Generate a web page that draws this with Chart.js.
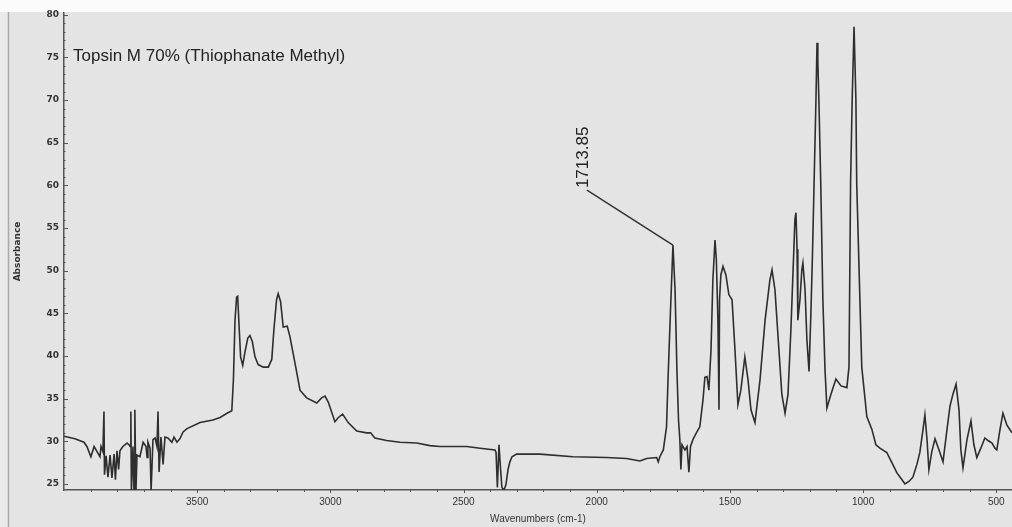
<!DOCTYPE html>
<html>
<head>
<meta charset="utf-8">
<script src="https://cdn.jsdelivr.net/npm/chart.js@4.4.1/dist/chart.umd.min.js"></script>
<style>
  html, body { margin: 0; padding: 0; background: #e4e4e4; }
  canvas { display: block; }
</style>
</head>
<body>
<canvas id="spectrum" width="1012" height="527"></canvas>
<script>
// IR spectrum, values (wavenumber cm-1 / absorbance)
const wavenumbers = [
  4000, 3959, 3925, 3914, 3899, 3887, 3876, 3865, 3861, 3854, 3850, 3848, 3842, 3835, 3827, 3820,
  3812, 3807, 3801, 3795, 3790, 3779, 3763, 3756, 3752, 3749, 3747, 3741, 3737, 3734, 3730, 3726,
  3715, 3703, 3692, 3688, 3685, 3677, 3673, 3666, 3658, 3651, 3647, 3643, 3636, 3628, 3621, 3610,
  3595, 3587, 3576, 3565, 3553, 3538, 3489, 3441, 3414, 3388, 3370, 3364, 3358, 3352, 3348, 3343,
  3337, 3329, 3321, 3310, 3302, 3293, 3283, 3271, 3252, 3233, 3220, 3212, 3202, 3196, 3187, 3177,
  3162, 3152, 3133, 3114, 3089, 3051, 3033, 3020, 3008, 2983, 2970, 2954, 2933, 2901, 2864, 2849,
  2833, 2789, 2739, 2676, 2626, 2589, 2488, 2438, 2382, 2378, 2373, 2367, 2361, 2356, 2348, 2341,
  2333, 2326, 2318, 2301, 2213, 2089, 1963, 1888, 1838, 1813, 1775, 1769, 1763, 1750, 1738, 1732,
  1725, 1713.85, 1706, 1699, 1693, 1688, 1684, 1680, 1669, 1661, 1654, 1648, 1639, 1624, 1613, 1601,
  1594, 1586, 1579, 1571, 1564, 1556, 1551, 1545, 1541, 1539, 1534, 1526, 1515, 1504, 1492, 1481,
  1470, 1459, 1444, 1432, 1421, 1406, 1387, 1368, 1350, 1342, 1331, 1316, 1305, 1293, 1282, 1271,
  1260, 1256, 1252, 1248, 1245, 1237, 1230, 1226, 1218, 1211, 1203, 1196, 1190, 1184, 1177, 1173,
  1170, 1166, 1159, 1151, 1143, 1136, 1121, 1102, 1083, 1061, 1053, 1047, 1041, 1034, 1027, 1024,
  1012, 1005, 986, 967, 952, 937, 911, 892, 873, 854, 843, 828, 813, 798, 787, 775,
  768, 760, 753, 742, 730, 715, 700, 685, 674, 663, 651, 640, 633, 625, 610, 595,
  584, 573, 558, 543, 531, 516, 505, 498, 486, 475, 460, 441
];
const absorbance = [
  30.6, 30.3, 29.9, 29.4, 28.2, 29.4, 28.8, 28.2, 29.4, 28.8, 33.5, 26.1, 28.3, 25.8, 28.4, 25.7,
  28.5, 25.5, 28.9, 26.7, 28.9, 29.4, 29.8, 29.6, 29.4, 33.5, 24.0, 29.4, 24.0, 33.7, 24.0, 28.4,
  28.2, 29.9, 29.4, 28.1, 29.9, 29.2, 24.2, 30.2, 30.4, 29.4, 33.5, 26.4, 30.5, 27.3, 30.5, 30.4,
  29.9, 30.5, 29.9, 30.3, 31.1, 31.5, 32.2, 32.5, 32.8, 33.3, 33.6, 37.2, 44.2, 46.9, 47.0, 43.7,
  39.9, 38.9, 40.4, 42.1, 42.4, 41.7, 39.9, 39.0, 38.7, 38.7, 39.6, 43.1, 46.6, 47.3, 46.4, 43.4,
  43.5, 42.3, 39.2, 36.0, 35.1, 34.5, 35.1, 35.3, 34.6, 32.3, 32.8, 33.2, 32.2, 31.2, 31.0, 31.0,
  30.4, 30.1, 29.9, 29.8, 29.5, 29.4, 29.4, 29.2, 29.0, 28.7, 24.6, 29.6, 26.7, 24.6, 24.3, 24.9,
  26.7, 27.6, 28.2, 28.5, 28.5, 28.2, 28.1, 28.0, 27.7, 28.0, 28.1, 27.6, 28.2, 29.0, 31.7, 37.6,
  43.7, 53.0, 47.8, 38.4, 32.5, 30.2, 26.7, 29.6, 29.0, 29.4, 26.4, 29.4, 30.2, 31.1, 31.7, 34.9,
  37.5, 37.6, 36.0, 40.7, 48.9, 53.6, 51.3, 44.2, 33.7, 46.6, 49.5, 50.5, 49.5, 47.2, 46.6, 40.7,
  34.3, 36.0, 39.9, 37.2, 33.7, 32.2, 37.2, 44.2, 48.9, 50.1, 47.8, 40.7, 35.5, 33.3, 35.5, 43.1,
  52.5, 56.0, 56.8, 52.5, 44.2, 46.6, 50.1, 50.9, 47.8, 41.9, 38.2, 45.0, 52.0, 60.3, 70.0, 76.7,
  74.5, 70.0, 60.3, 46.6, 38.4, 33.9, 35.5, 37.3, 36.5, 36.3, 38.7, 60.3, 70.0, 78.6, 70.0, 60.3,
  46.6, 38.7, 32.9, 31.4, 29.6, 29.2, 28.7, 27.5, 26.3, 25.5, 25.0, 25.3, 25.8, 27.3, 28.7, 31.4,
  33.1, 30.2, 26.7, 28.8, 30.3, 29.0, 27.6, 31.4, 34.1, 35.5, 36.7, 33.7, 29.0, 26.9, 30.2, 32.4,
  29.6, 28.1, 29.2, 30.4, 30.1, 29.8, 29.2, 29.0, 31.4, 33.3, 31.9, 31.0
];

const xTickLabels = [3500, 3000, 2500, 2000, 1500, 1000, 500];
const yTickLabels = [25, 30, 35, 40, 45, 50, 55, 60, 65, 70, 75, 80];
const chartTitle = "Topsin M 70% (Thiophanate Methyl)";
const peakLabel = "1713.85";
const peakWavenumber = 1713.85;

const points = wavenumbers.map((w, i) => ({ x: w, y: absorbance[i] }));
const peakIndex = wavenumbers.indexOf(peakWavenumber);
const sans = "'Liberation Sans', Arial, sans-serif";

// background, tick marks, x labels, title and peak label
const frame = {
  id: "frame",
  beforeDraw(chart) {
    const c = chart.ctx;
    c.save();
    c.fillStyle = "#e4e4e4";
    c.fillRect(0, 0, chart.width, chart.height);
    c.fillStyle = "#fbfbfb";
    c.fillRect(0, 0, chart.width, 12);
    c.fillStyle = "#eaeaea";
    c.fillRect(0, 12, 8, chart.height - 12);
    c.strokeStyle = "#a9a9a9";
    c.lineWidth = 1.5;
    c.beginPath();
    c.moveTo(8.5, 12);
    c.lineTo(8.5, chart.height);
    c.stroke();
    c.restore();
  },
  afterDraw(chart) {
    const c = chart.ctx;
    const xs = chart.scales.x, ys = chart.scales.y;
    const area = chart.chartArea;
    c.save();
    c.strokeStyle = "#555";
    c.lineWidth = 1;
    // y ticks every 1, longer every 5
    for (let v = Math.ceil(ys.min); v <= ys.max; v++) {
      const py = Math.round(ys.getPixelForValue(v)) + 0.5;
      const len = v % 5 === 0 ? 4 : 1.5;
      c.beginPath();
      c.moveTo(area.left - 1, py);
      c.lineTo(area.left + len, py);
      c.stroke();
    }
    // x ticks every 100, longer every 500
    for (let v = 500; v < xs.max; v += 100) {
      const px = Math.round(xs.getPixelForValue(v)) + 0.5;
      const len = v % 500 === 0 ? 3 : 2;
      c.beginPath();
      c.moveTo(px, area.bottom - 1);
      c.lineTo(px, area.bottom + len);
      c.stroke();
    }
    // x labels
    c.fillStyle = "#333";
    c.font = "10px " + sans;
    c.textAlign = "center";
    c.textBaseline = "top";
    xTickLabels.forEach(v => c.fillText(String(v), xs.getPixelForValue(v), area.bottom + 7));

    // title inside plot
    c.fillStyle = "#222";
    c.font = "17px " + sans;
    c.textAlign = "left";
    c.textBaseline = "middle";
    c.fillText(chartTitle, area.left + 9, 56);

    // peak label with leader line
    const px = xs.getPixelForValue(peakWavenumber);
    const py = ys.getPixelForValue(absorbance[peakIndex]);
    c.strokeStyle = "#333";
    c.lineWidth = 1.5;
    c.beginPath();
    c.moveTo(px, py);
    c.lineTo(px - 86, py - 55);
    c.stroke();
    c.translate(px - 90, py - 57);
    c.rotate(-Math.PI / 2);
    c.fillStyle = "#222";
    c.font = "17px " + sans;
    c.textAlign = "left";
    c.textBaseline = "middle";
    c.fillText(peakLabel, 0, 0);
    c.restore();
  }
};

const ctx = document.getElementById("spectrum").getContext("2d");
const chart = new Chart(ctx, {
  type: "scatter",
  data: {
    datasets: [{
      data: points,
      showLine: true,
      borderColor: "#2e2e2e",
      borderWidth: 1.6,
      pointRadius: 0,
      tension: 0
    }]
  },
  options: {
    responsive: false,
    animation: false,
    devicePixelRatio: 1,
    layout: { padding: { top: 13, right: 0, bottom: 0, left: 0 } },
    plugins: { legend: { display: false }, tooltip: { enabled: false } },
    scales: {
      x: {
        type: "linear",
        reverse: true,
        min: 441,
        max: 4000,
        afterFit: s => { s.height = 37; },
        grid: { display: false, drawTicks: false },
        border: { display: true, color: "#555", width: 1.5 },
        ticks: { display: false, stepSize: 500, includeBounds: false },
        title: {
          display: true,
          text: "Wavenumbers (cm-1)",
          color: "#333",
          font: { family: sans, size: 10 },
          padding: { top: 2, bottom: 2 }
        }
      },
      y: {
        min: 24.3,
        max: 80.2,
        afterFit: s => { s.width = 64; },
        grid: { display: false, drawTicks: false },
        border: { display: true, color: "#555", width: 1.5 },
        ticks: {
          stepSize: 5,
          includeBounds: false,
          autoSkip: false,
          padding: 5,
          color: "#333",
          font: { family: "'DejaVu Sans', sans-serif", size: 9, weight: "bold" },
          callback: v => yTickLabels.includes(v) ? String(v) : ""
        },
        title: {
          display: true,
          text: "Absorbance",
          color: "#333",
          font: { family: "'DejaVu Sans', sans-serif", size: 9, weight: "bold" },
          padding: { top: 12, bottom: 0 }
        }
      }
    }
  },
  plugins: [frame]
});
</script>
</body>
</html>
